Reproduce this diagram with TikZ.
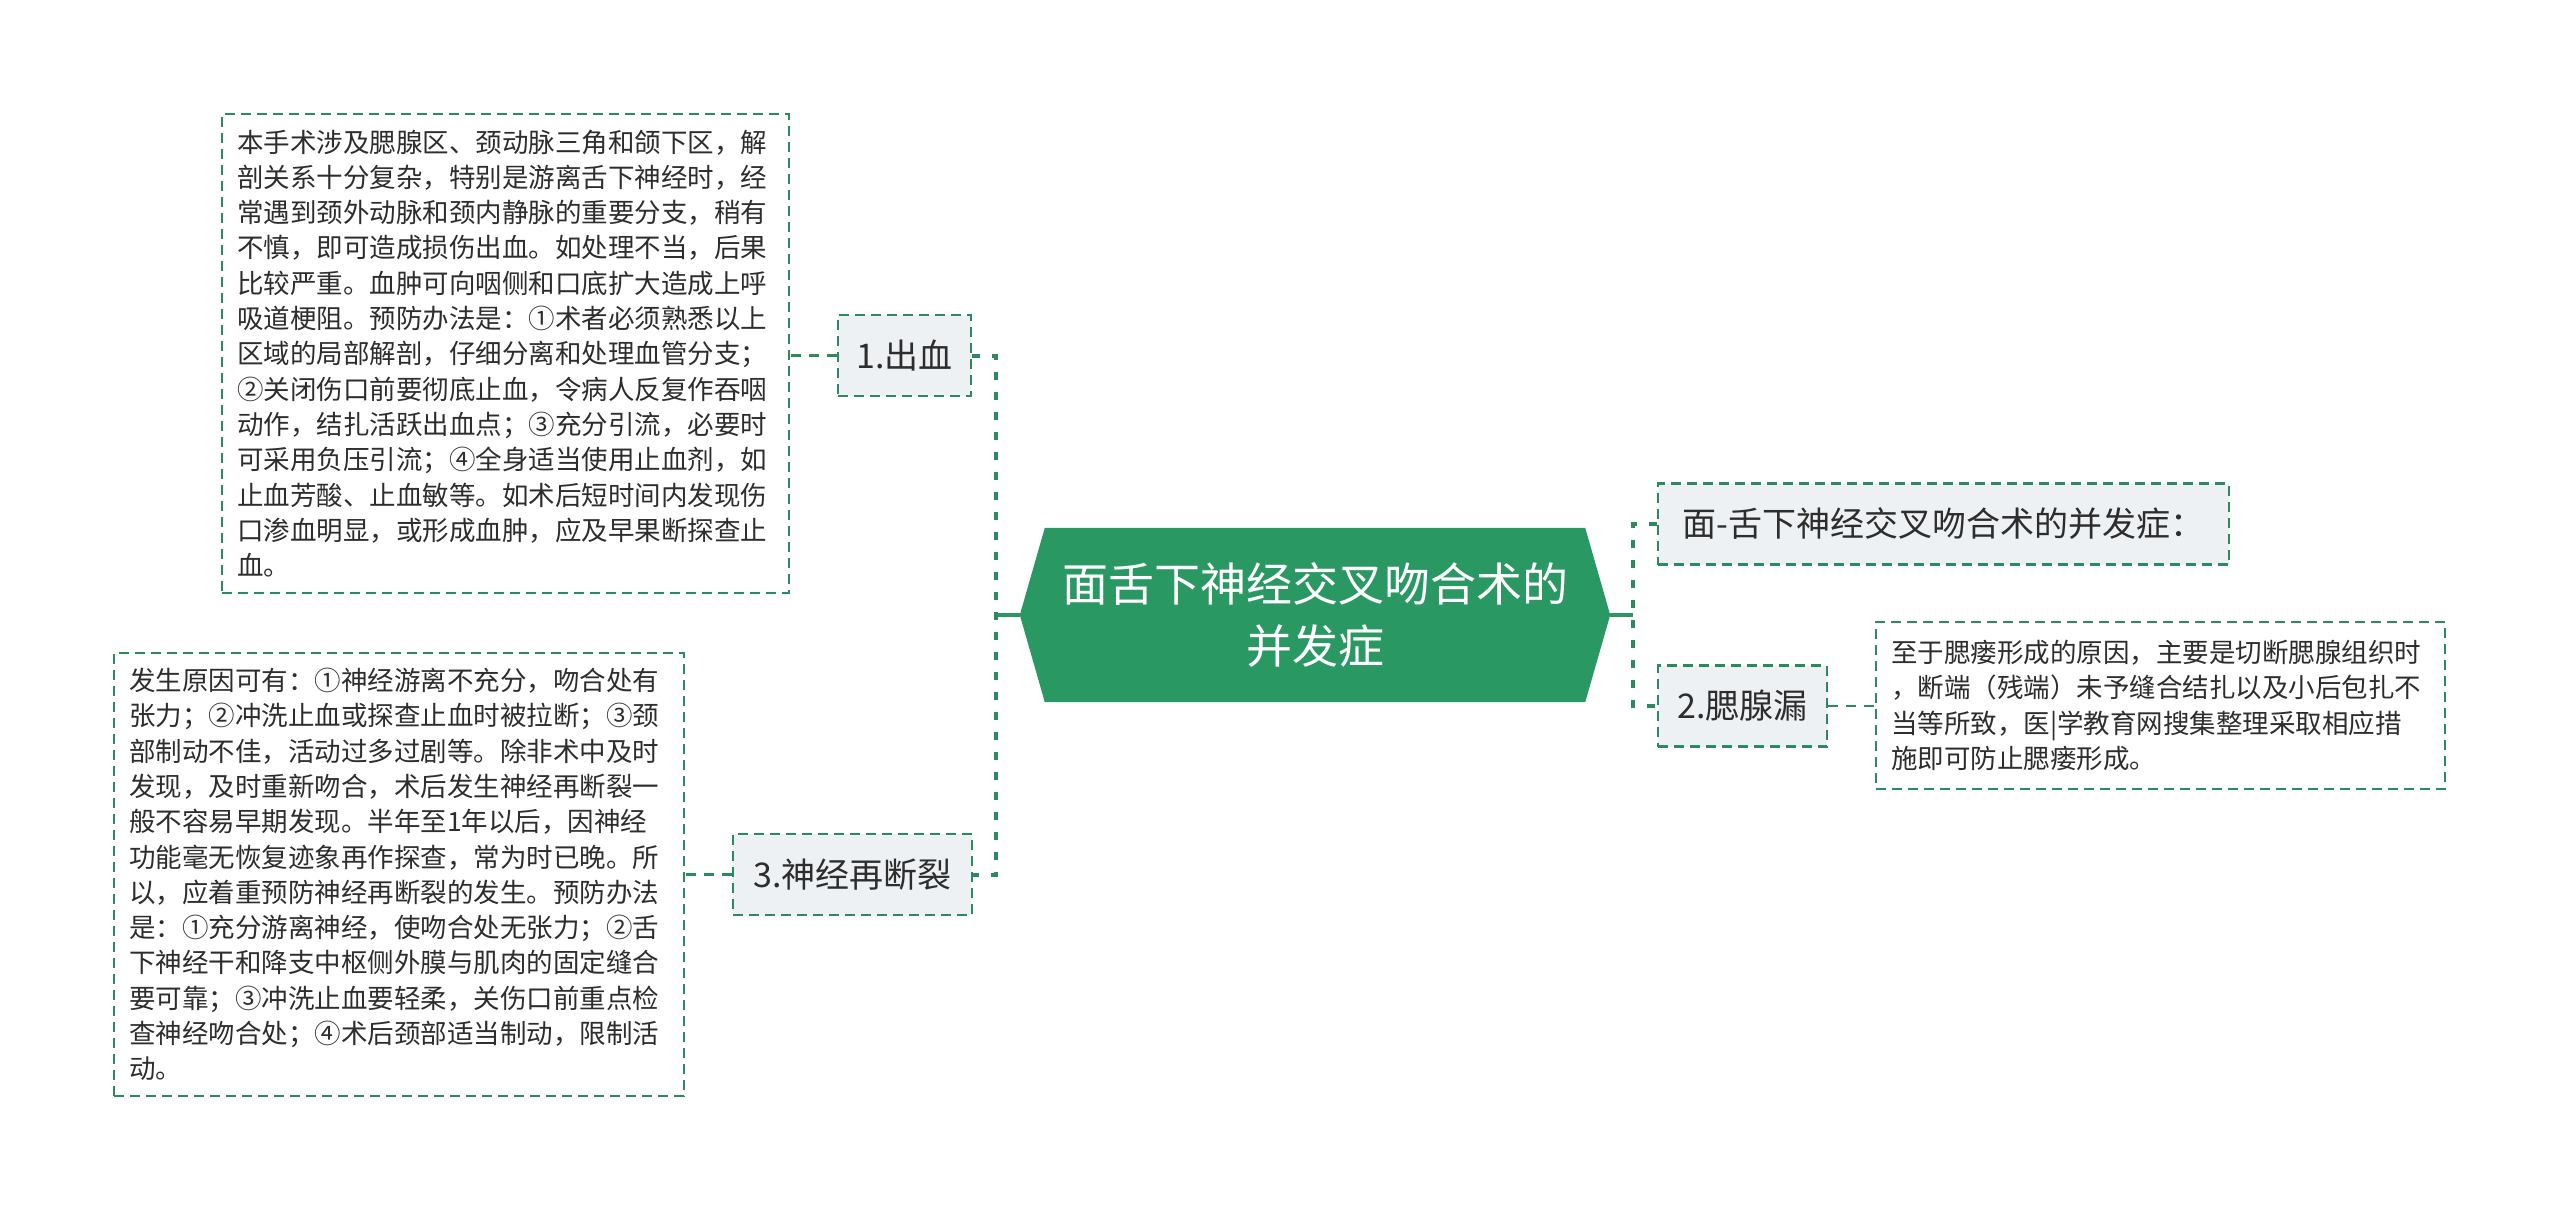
\documentclass[tikz,border=0pt]{standalone}
\usepackage{fontspec}
\setmainfont{Noto Sans CJK SC}
\usetikzlibrary{backgrounds}
\definecolor{mgreen}{RGB}{42,152,99}
\definecolor{lgreen}{RGB}{45,138,94}
\definecolor{boxfill}{RGB}{238,241,244}
\definecolor{txt}{RGB}{45,45,45}
\begin{document}
\begin{tikzpicture}[x=1pt,y=-1pt,
  branch/.style={draw=lgreen, fill=boxfill, line width=2.5pt, dash pattern=on 10pt off 6pt, text=txt, font=\fontsize{34}{40}\selectfont, inner sep=0pt, minimum height=81pt},
  detail/.style={draw=lgreen, fill=white, line width=2.2pt, dash pattern=on 10pt off 6pt, text=txt, font=\fontsize{26.5}{35.3}\selectfont, align=left, inner xsep=15pt, inner ysep=0pt},
  spine/.style={draw=lgreen, line width=4pt, dash pattern=on 8pt off 12pt},
  link/.style={draw=lgreen, line width=2.5pt, dash pattern=on 10pt off 8pt},
  stub/.style={draw=mgreen, line width=3.5pt},
  mainbox/.style={minimum width=590pt, minimum height=174pt, inner sep=0pt, text=white, align=center, font=\fontsize{46}{62}\selectfont}]
\useasboundingbox (0,0) rectangle (2560,1213);

% central node
\node[mainbox] (main) at (1315,615) {面舌下神经交叉吻合术的\\并发症};
\begin{scope}[on background layer]
  \fill[mgreen] (main.west) -- ([xshift=25pt]main.north west) -- ([xshift=-25pt]main.north east)
    -- (main.east) -- ([xshift=-25pt]main.south east) -- ([xshift=25pt]main.south west) -- cycle;
\end{scope}

% branches
\node[branch, minimum width=133pt] (b1) at (904.5,355.5) {1.出血};
\node[branch, minimum width=239pt] (b3) at (852.5,874.5) {3.神经再断裂};
\node[branch, minimum width=571pt] (r1) at (1943.5,524) {面-舌下神经交叉吻合术的并发症：};
\node[branch, minimum width=169pt] (r2) at (1742.5,706) {2.腮腺漏};

% details
\node[detail, text width=537pt, minimum height=479pt] (d1) at (505.5,353.5) {本手术涉及腮腺区、颈动脉三角和颌下区，解\\
剖关系十分复杂，特别是游离舌下神经时，经\\
常遇到颈外动脉和颈内静脉的重要分支，稍有\\
不慎，即可造成损伤出血。如处理不当，后果\\
比较严重。血肿可向咽侧和口底扩大造成上呼\\
吸道梗阻。预防办法是：①术者必须熟悉以上\\
区域的局部解剖，仔细分离和处理血管分支；\\
②关闭伤口前要彻底止血，令病人反复作吞咽\\
动作，结扎活跃出血点；③充分引流，必要时\\
可采用负压引流；④全身适当使用止血剂，如\\
止血芳酸、止血敏等。如术后短时间内发现伤\\
口渗血明显，或形成血肿，应及早果断探查止\\
血。};

\node[detail, text width=540pt, minimum height=443pt] (d3) at (399,874.5) {发生原因可有：①神经游离不充分，吻合处有\\
张力；②冲洗止血或探查止血时被拉断；③颈\\
部制动不佳，活动过多过剧等。除非术中及时\\
发现，及时重新吻合，术后发生神经再断裂一\\
般不容易早期发现。半年至1年以后，因神经\\
功能毫无恢复迹象再作探查，常为时已晚。所\\
以，应着重预防神经再断裂的发生。预防办法\\
是：①充分游离神经，使吻合处无张力；②舌\\
下神经干和降支中枢侧外膜与肌肉的固定缝合\\
要可靠；③冲洗止血要轻柔，关伤口前重点检\\
查神经吻合处；④术后颈部适当制动，限制活\\
动。};

\node[detail, text width=539pt, minimum height=167pt] (d2) at (2160.5,705.5) {至于腮瘘形成的原因，主要是切断腮腺组织时\\
，断端（残端）未予缝合结扎以及小后包扎不\\
当等所致，医|学教育网搜集整理采取相应措\\
施即可防止腮瘘形成。};

% junctions
\coordinate (jl) at (996,615);
\coordinate (jr) at (1633,615);

% connectors
\draw[stub] (main.west) -- (jl);
\draw[stub] (main.east) -- (jr);
\draw[spine] (b1.east) -| (jl) |- (b3.east);
\draw[spine] (r1.west) -| (jr) |- (r2.west);
\draw[link] (b1.west) -- (d1.east |- b1.west);
\draw[link] (b3.west) -- (d3.east |- b3.west);
\draw[link] (r2.east) -- (d2.west |- r2.east);
\end{tikzpicture}
\end{document}
